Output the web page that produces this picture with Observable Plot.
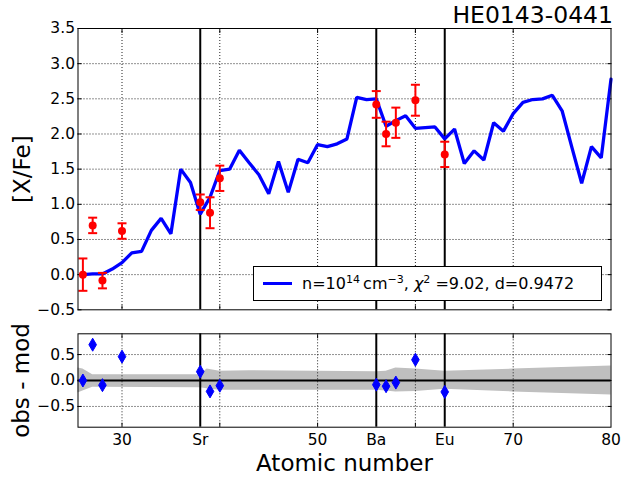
<!DOCTYPE html>
<html>
<head>
<meta charset="utf-8">
<script src="https://cdn.jsdelivr.net/npm/d3@7"></script>
<script src="https://cdn.jsdelivr.net/npm/@observablehq/plot@0.6"></script>
<style>
  body { margin: 0; background: #fff; font-family: "DejaVu Sans", sans-serif; }
  #wrap { position: relative; width: 622px; height: 478px; overflow: hidden; background: #fff; }
  #top, #bot { position: absolute; left: 0; }
  #top { top: 0; }
  #bot { top: 320px; }
  #legend {
    position: absolute; left: 253px; top: 266px; width: 349px; height: 35px;
    box-sizing: border-box; border: 1px solid #000; background: #fff;
    display: flex; align-items: center; font-size: 16px; color: #000; white-space: nowrap;
  }
  #legend .ln { display: inline-block; width: 29px; height: 3.3px; background: #0000ff; margin-left: 9px; margin-right: 10px; }
  #legend sup { font-size: 11px; vertical-align: 6px; line-height: 0; }
  #legend i { font-style: oblique; }
</style>
</head>
<body>
<div id="wrap">
  <div id="top"></div>
  <div id="bot"></div>
  <div id="legend"><span class="ln"></span><span>n=10<sup>14</sup>&#8201;cm<sup>&#8722;3</sup>, <i>&#967;</i><sup>2</sup> =9.02, d=0.9472</span></div>
</div>
<script>
// ---------- data ----------
const modelZ = [26,27,28,29,30,31,32,33,34,35,36,37,38,39,40,41,42,43,44,45,46,47,48,49,50,
                51,52,53,54,55,56,57,58,59,60,61,62,63,64,65,66,67,68,69,70,71,72,73,74,75,76,77,78,79,80];
const modelVal = [0.00,0.01,0.01,0.08,0.17,0.31,0.33,0.63,0.80,0.58,1.50,1.31,0.86,1.10,1.48,
                  1.50,1.77,1.59,1.42,1.15,1.61,1.17,1.64,1.59,1.85,1.82,1.86,1.93,2.52,2.49,
                  2.50,2.11,2.19,2.26,2.08,2.09,2.10,1.93,2.07,1.58,1.76,1.63,2.16,2.04,2.29,
                  2.45,2.49,2.50,2.55,2.33,1.81,1.30,1.82,1.66,2.78];

const obsZ   = [26, 27, 28, 30, 38, 39, 40, 56, 57, 58, 60, 63];
const obsVal = [0.00, 0.70, -0.085, 0.62, 1.03, 0.88, 1.37, 2.42, 2.00, 2.16, 2.48, 1.71];
const obsErr = [0.23, 0.11, 0.11, 0.11, 0.11, 0.22, 0.18, 0.19, 0.175, 0.215, 0.22, 0.18];
const residVal = [0.00, 0.69, -0.09, 0.46, 0.17, -0.21, -0.10, -0.08, -0.11, -0.04, 0.40, -0.22];

const bandZ  = [25.5, 26, 27, 38, 38.7, 40, 43, 56, 57, 58, 60, 63, 70, 80];
const bandHi = [0.24, 0.22, 0.11, 0.11, 0.22, 0.18, 0.19, 0.17, 0.18, 0.24, 0.22, 0.18, 0.22, 0.28];
const bandLo = [-0.24, -0.20, -0.13, -0.14, -0.16, -0.19, -0.19, -0.19, -0.20, -0.22, -0.21, -0.17, -0.22, -0.28];

const markerZ = [38, 56, 63];
const xTickZ = [30, 38, 50, 56, 63, 70, 80];
const xTickLabels = ["30", "Sr", "50", "Ba", "Eu", "70", "80"];
const xGridZ = [30, 40, 50, 60, 70];
const yTicksTop = [-0.5, 0, 0.5, 1, 1.5, 2, 2.5, 3, 3.5];
const yGridTop = [0, 0.5, 1, 1.5, 2, 2.5, 3];
const yTicksBot = [-0.5, 0, 0.5];
const yGridBot = [-0.5, 0.5];
const xDomain = [25.5, 80];

const title = "HE0143-0441";
const yLabelTop = "[X/Fe]";
const yLabelBot = "obs - mod";
const xLabel = "Atomic number";

// ---------- tables ----------
const model = modelZ.map((z, i) => ({z, v: modelVal[i]}));
const obs = obsZ.map((z, i) => ({z, v: obsVal[i], e: obsErr[i]}));
const resid = obsZ.map((z, i) => ({z, v: residVal[i]}));
const band = bandZ.map((z, i) => ({z, lo: bandLo[i], hi: bandHi[i]}));

// ---------- symbols ----------
const capSymbol = { draw(ctx) { ctx.moveTo(-4.5, 0); ctx.lineTo(4.5, 0); } };
const thinDiamond = { draw(ctx) { ctx.moveTo(0, -6.5); ctx.lineTo(3.8, 0); ctx.lineTo(0, 6.5); ctx.lineTo(-3.8, 0); ctx.closePath(); } };

const fmt = d3.format(".1f");
const gridStyle = {stroke: "#222", strokeWidth: 1, strokeDasharray: "1,2", strokeOpacity: 1};
const W = 622, L = 77.5, R = 11.5;

function inwardTicks(xs, ys) {
  return [
    Plot.axisX(xs, {anchor: "bottom", tickSize: 4, dy: -4, fill: "none", label: null, tickFormat: null}),
    Plot.axisX(xs, {anchor: "top", tickSize: 4, dy: 4, fill: "none", label: null, tickFormat: null}),
    Plot.axisY(ys, {anchor: "left", tickSize: 4, dx: 4, fill: "none", label: null, tickFormat: null}),
    Plot.axisY(ys, {anchor: "right", tickSize: 4, dx: -4, fill: "none", label: null, tickFormat: null})
  ];
}

// ---------- top panel ----------
const topPlot = Plot.plot({
  width: W, height: 320,
  marginLeft: L, marginRight: R, marginTop: 28, marginBottom: 10.7,
  x: {domain: xDomain},
  y: {domain: [-0.5, 3.5]},
  style: {fontFamily: "'DejaVu Sans', sans-serif", fontSize: "15.5px", color: "#000", background: "transparent", overflow: "visible"},
  marks: [
    Plot.gridX(xGridZ, gridStyle),
    Plot.gridY(yGridTop, gridStyle),
    ...inwardTicks(xGridZ, yTicksTop),
    Plot.axisY(yTicksTop, {anchor: "left", tickSize: 0, tickPadding: 3, tickFormat: fmt, label: null, fontSize: 15.5}),
    Plot.ruleX(markerZ, {stroke: "#000", strokeWidth: 2}),
    Plot.line(model, {x: "z", y: "v", stroke: "#0000ff", strokeWidth: 3.3, strokeLinejoin: "miter"}),
    Plot.ruleX(obs, {x: "z", y1: d => d.v - d.e, y2: d => d.v + d.e, stroke: "#ff0000", strokeWidth: 2}),
    Plot.dot(obs, {x: "z", y: d => d.v - d.e, symbol: capSymbol, stroke: "#ff0000", fill: "none", strokeWidth: 2}),
    Plot.dot(obs, {x: "z", y: d => d.v + d.e, symbol: capSymbol, stroke: "#ff0000", fill: "none", strokeWidth: 2}),
    Plot.dot(obs, {x: "z", y: "v", r: 4, fill: "#ff0000", stroke: "none"}),
    Plot.frame({stroke: "#000", strokeWidth: 1}),
    Plot.text([title], {frameAnchor: "top-right", textAnchor: "end", lineAnchor: "bottom", dx: 2, dy: -5.3, fontSize: 23.5, fill: "#000"}),
    Plot.text([yLabelTop], {frameAnchor: "left", rotate: -90, dx: -55.5, textAnchor: "middle", lineAnchor: "middle", fontSize: 23, fill: "#000"})
  ]
});
document.getElementById("top").appendChild(topPlot);

// ---------- bottom panel ----------
const botPlot = Plot.plot({
  width: W, height: 158,
  marginLeft: L, marginRight: R, marginTop: 13.3, marginBottom: 51.3,
  x: {domain: xDomain},
  y: {domain: [-0.9, 0.9]},
  style: {fontFamily: "'DejaVu Sans', sans-serif", fontSize: "15.5px", color: "#000", background: "transparent", overflow: "visible"},
  marks: [
    Plot.areaY(band, {x: "z", y1: "lo", y2: "hi", fill: "#bfbfbf", curve: "linear"}),
    Plot.gridX(xGridZ, gridStyle),
    Plot.gridY(yGridBot, gridStyle),
    ...inwardTicks(xGridZ, yTicksBot),
    Plot.axisY(yTicksBot, {anchor: "left", tickSize: 0, tickPadding: 3, tickFormat: fmt, label: null, fontSize: 15.5}),
    Plot.axisX(xTickZ, {anchor: "bottom", tickSize: 0, tickPadding: 7, tickFormat: d => xTickLabels[xTickZ.indexOf(d)], label: null, fontSize: 15.5}),
    Plot.ruleX(markerZ, {stroke: "#000", strokeWidth: 2}),
    Plot.ruleY([0], {stroke: "#000", strokeWidth: 2}),
    Plot.dot(resid, {x: "z", y: "v", symbol: thinDiamond, fill: "#0000ff", stroke: "#0000ff", strokeWidth: 1}),
    Plot.frame({stroke: "#000", strokeWidth: 1}),
    Plot.text([yLabelBot], {frameAnchor: "left", rotate: -90, dx: -56.5, textAnchor: "middle", lineAnchor: "middle", fontSize: 23, fill: "#000"}),
    Plot.text([xLabel], {frameAnchor: "bottom", textAnchor: "middle", lineAnchor: "bottom", dy: 44, fontSize: 23, fill: "#000"})
  ]
});
document.getElementById("bot").appendChild(botPlot);
</script>
</body>
</html>
